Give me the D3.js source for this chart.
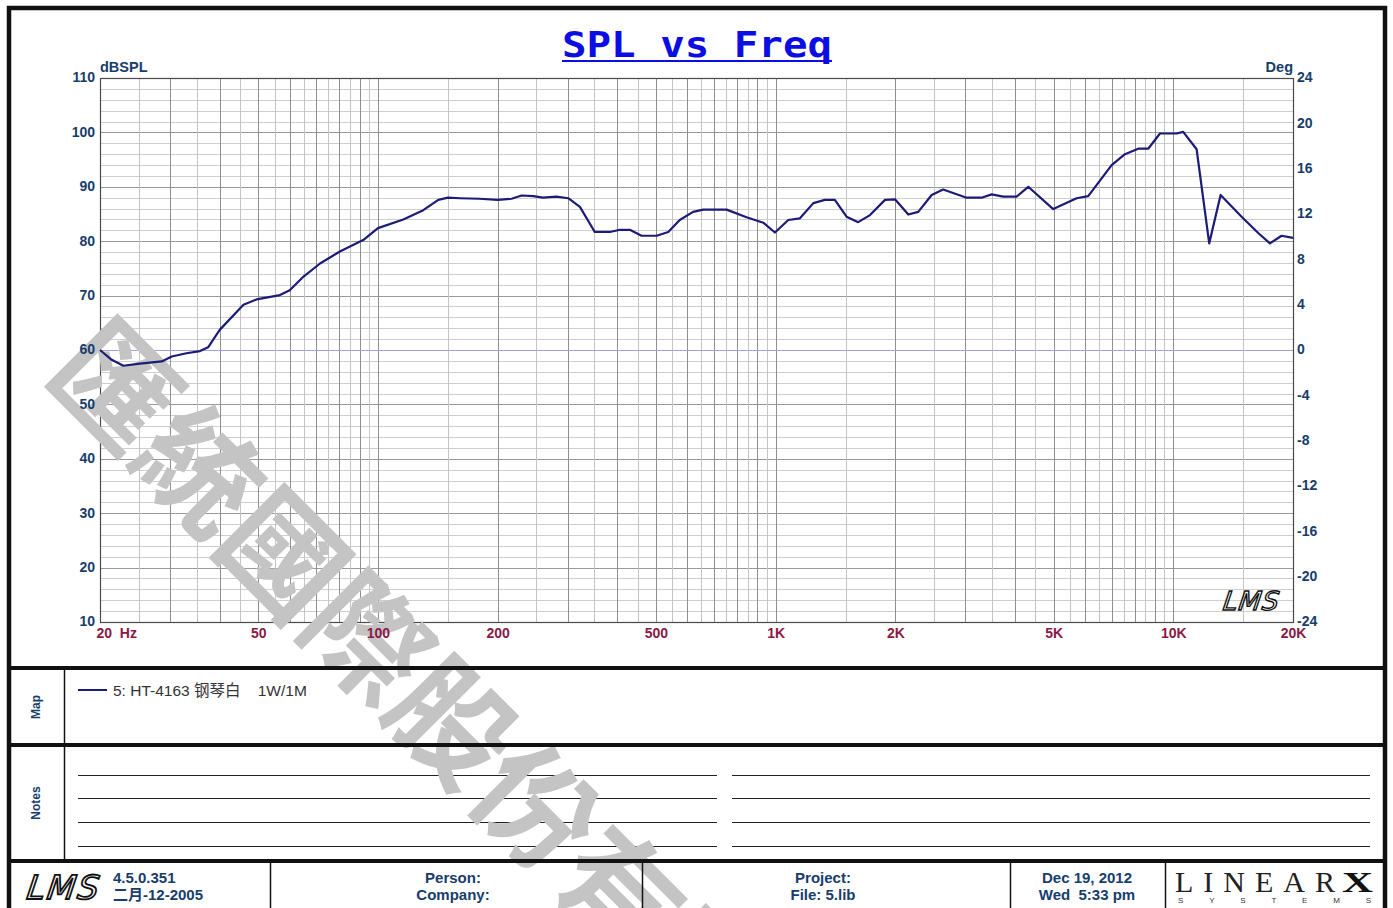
<!DOCTYPE html>
<html>
<head>
<meta charset="utf-8">
<script src="https://cdnjs.cloudflare.com/ajax/libs/d3/7.8.5/d3.min.js"></script>
<style>
  body { margin: 0; background: #fff; overflow: hidden; }
  svg { display: block; }
</style>
</head>
<body>
<div id="splchart"></div>
<script>
var freq = [20, 21.4, 22.9, 25.2, 28.6, 30.3, 33, 35.7, 37.4, 40,
            45.9, 49.5, 56.7, 60, 65, 71.5, 80.2, 91.8, 100, 115.8,
            130, 141.8, 150, 160.8, 180, 200, 216.8, 229.6, 245.8, 260,
            281, 301, 322, 351, 383, 406, 430, 460, 502, 537,
            574, 620, 658, 753, 845, 931, 996, 1076, 1151, 1244,
            1330, 1409, 1508, 1613, 1727, 1884, 1996, 2156, 2284, 2468,
            2638, 3022, 3296, 3494, 3736, 4036, 4318, 4990, 5714, 6110,
            6998, 7558, 8162, 8650, 9256, 10194, 10592, 11446, 12312, 13152,
            14852, 16350, 17500, 18720, 20000];
var spl = [60, 58.2, 57.1, 57.5, 57.9, 58.8, 59.4, 59.8, 60.5, 63.7,
           68.3, 69.3, 70.1, 71.0, 73.5, 75.9, 78.1, 80.2, 82.4, 84.0,
           85.7, 87.6, 88.0, 87.9, 87.8, 87.6, 87.8, 88.4, 88.3, 88.0,
           88.2, 87.9, 86.3, 81.7, 81.7, 82.1, 82.1, 81.0, 81.0, 81.7,
           83.9, 85.4, 85.8, 85.8, 84.4, 83.4, 81.6, 83.9, 84.2, 87.0,
           87.6, 87.6, 84.5, 83.5, 84.8, 87.6, 87.7, 84.9, 85.4, 88.5,
           89.5, 88.0, 88.0, 88.6, 88.2, 88.2, 90.0, 85.9, 87.9, 88.3,
           94.0, 96.0, 97.0, 97.0, 99.8, 99.8, 100.1, 96.9, 79.6, 88.5,
           84.5, 81.5, 79.6, 81.0, 80.6];

// axis ticks
var xTicks = [20, 50, 100, 200, 500, 1000, 2000, 5000, 10000, 20000];
var xTickLabels = ["20  Hz", "50", "100", "200", "500", "1K", "2K", "5K", "10K", "20K"];
var yTicks = [10, 20, 30, 40, 50, 60, 70, 80, 90, 100, 110];
var degTicks = [-24, -20, -16, -12, -8, -4, 0, 4, 8, 12, 16, 20, 24];

// texts
var titleText = "SPL vs Freq";
var legendText = "5: HT-4163 钢琴白    1W/1M";
var watermarkText = "匯統國際股份有限公司";
var footerCells = [
  {x: 113, anchor: "start", lines: ["4.5.0.351", "二月-12-2005"]},
  {x: 453, anchor: "middle", lines: ["Person:", "Company:"]},
  {x: 823, anchor: "middle", lines: ["Project:", "File: 5.lib"]},
  {x: 1087, anchor: "middle", lines: ["Dec 19, 2012", "Wed  5:33 pm"]}
];

var W = 1393, H = 908;
var plot = {left: 100, top: 78, right: 1293, bottom: 622};
var axisBlue = "#173d6b", axisRed = "#8b1846", curveBlue = "#1c1c78";
var numFont = "'Liberation Sans', Arial, sans-serif";

var svg = d3.select("#splchart")
  .append("svg")
    .attr("width", W)
    .attr("height", H);

// scales
var x = d3.scaleLog()
  .domain([20, 20000])
  .range([plot.left, plot.right]);
var y = d3.scaleLinear()
  .domain([10, 110])
  .range([plot.bottom, plot.top]);
var deg = d3.scaleLinear()
  .domain([-24, 24])
  .range([plot.bottom, plot.top]);

// grid lines, 2 dB steps and half/whole decade steps
var gridDb = d3.range(10, 111, 2);
var gridF = [];
[10, 100, 1000, 10000].forEach(function(base) {
  for (var m = 1; m <= 10; m += 0.5) {
    var f = base * m;
    if (f >= 20 && f <= 20000) gridF.push({f: f, major: m % 1 == 0});
  }
});

var grid = svg.append("g");
grid.selectAll("line.h")
  .data(gridDb)
  .enter()
  .append("line")
    .attr("x1", plot.left).attr("x2", plot.right)
    .attr("y1", function(d) { return Math.round(y(d)) + 0.5; })
    .attr("y2", function(d) { return Math.round(y(d)) + 0.5; })
    .attr("stroke", function(d) { return d % 10 == 0 ? "#9a9a9a" : "#cfcfcf"; })
    .attr("stroke-width", 1);
grid.selectAll("line.v")
  .data(gridF)
  .enter()
  .append("line")
    .attr("y1", plot.top).attr("y2", plot.bottom)
    .attr("x1", function(d) { return Math.round(x(d.f)) + 0.5; })
    .attr("x2", function(d) { return Math.round(x(d.f)) + 0.5; })
    .attr("stroke", function(d) { return d.major ? "#8f8f8f" : "#c4c4c4"; })
    .attr("stroke-width", 1);

// 0 deg reference line
svg.append("line")
  .attr("x1", plot.left).attr("x2", plot.right)
  .attr("y1", Math.round(deg(0)) + 0.5).attr("y2", Math.round(deg(0)) + 0.5)
  .attr("stroke", "#a3a3dc")
  .attr("stroke-width", 1.2);

// plot border
svg.append("rect")
  .attr("x", plot.left + 0.5).attr("y", plot.top + 0.5)
  .attr("width", plot.right - plot.left).attr("height", plot.bottom - plot.top)
  .attr("fill", "none")
  .attr("stroke", "#4a4a4a")
  .attr("stroke-width", 1.2);

// notes lines
var notesY = [775, 798, 822, 846];
var notes = svg.append("g");
[[78, 717], [732, 1370]].forEach(function(seg) {
  notes.selectAll(null)
    .data(notesY)
    .enter()
    .append("line")
      .attr("x1", seg[0]).attr("x2", seg[1])
      .attr("y1", function(d) { return d + 0.5; })
      .attr("y2", function(d) { return d + 0.5; })
      .attr("stroke", "#222")
      .attr("stroke-width", 1);
});

// watermark
svg.append("text")
  .attr("transform", "translate(79,339) rotate(45)")
  .attr("dominant-baseline", "central")
  .style("font-family", "'Noto Sans CJK TC', 'Noto Sans CJK SC', sans-serif")
  .style("font-weight", "700")
  .style("font-size", "119px")
  .style("fill", "#c4c4c4")
  .text(watermarkText);

// curve
var line = d3.line()
  .x(function(d, i) { return x(freq[i]); })
  .y(function(d) { return y(d); });
svg.append("path")
  .datum(spl)
  .attr("d", line)
  .attr("fill", "none")
  .attr("stroke", curveBlue)
  .attr("stroke-width", 2.2)
  .attr("stroke-linejoin", "round");

// left axis
var yAxis = svg.append("g")
  .attr("transform", "translate(" + plot.left + ",0)")
  .call(d3.axisLeft(y).tickValues(yTicks).tickSize(0).tickPadding(5));
// right axis, plain hyphen for negatives
var degAxis = svg.append("g")
  .attr("transform", "translate(" + plot.right + ",0)")
  .call(d3.axisRight(deg).tickValues(degTicks).tickSize(0).tickPadding(4)
    .tickFormat(function(d) { return String(d); }));
// bottom axis
var xAxis = svg.append("g")
  .attr("transform", "translate(0," + plot.bottom + ")")
  .call(d3.axisBottom(x).tickValues(xTicks).tickSize(0).tickPadding(6)
    .tickFormat(function(d, i) { return xTickLabels[i]; }));

[yAxis, degAxis, xAxis].forEach(function(a) {
  a.select(".domain").remove();
  a.selectAll("text")
    .style("font-family", numFont)
    .style("font-weight", "700")
    .style("font-size", "14px")
    .style("white-space", "pre")
    .attr("fill", axisBlue);
});
yAxis.selectAll("text").attr("dy", "0.28em");
degAxis.selectAll("text").attr("dy", "0.28em");
xAxis.selectAll("text").attr("fill", axisRed);
xAxis.selectAll("text").filter(function(d) { return d == 20; })
  .attr("text-anchor", "start")
  .attr("dx", -4);

// unit labels
svg.append("text")
  .attr("x", plot.left).attr("y", 72)
  .style("font-family", numFont).style("font-weight", "700").style("font-size", "14.5px")
  .attr("fill", axisBlue)
  .text("dBSPL");
svg.append("text")
  .attr("x", plot.right).attr("y", 72)
  .attr("text-anchor", "end")
  .style("font-family", numFont).style("font-weight", "700").style("font-size", "14.5px")
  .attr("fill", axisBlue)
  .text("Deg");

// title, monospace stretched to the reference width
var titleW = 270;
svg.append("text")
  .attr("x", 697 - titleW / 2).attr("y", 57)
  .attr("textLength", titleW)
  .attr("lengthAdjust", "spacingAndGlyphs")
  .style("font-family", "'DejaVu Sans Mono', monospace")
  .style("font-weight", "700")
  .style("font-size", "36px")
  .attr("fill", "#0c0ce4")
  .text(titleText);
svg.append("line")
  .attr("x1", 697 - titleW / 2).attr("x2", 697 + titleW / 2)
  .attr("y1", 61).attr("y2", 61)
  .attr("stroke", "#0c0ce4")
  .attr("stroke-width", 2);

// small LMS mark inside the plot
svg.append("text")
  .attr("x", 1222).attr("y", 610)
  .attr("transform", "skewX(-8)")
  .attr("dx", 86)
  .style("font-family", "'DejaVu Sans', sans-serif")
  .style("font-style", "italic")
  .style("font-size", "26px")
  .style("letter-spacing", "1px")
  .attr("fill", "none")
  .attr("stroke", "#111")
  .attr("stroke-width", 1.4)
  .text("LMS");

// legend (Map)
svg.append("line")
  .attr("x1", 78).attr("x2", 107)
  .attr("y1", 690).attr("y2", 690)
  .attr("stroke", curveBlue)
  .attr("stroke-width", 2);
svg.append("text")
  .attr("x", 113).attr("y", 690)
  .attr("dominant-baseline", "central")
  .style("font-family", "'Liberation Sans', 'Noto Sans CJK SC', sans-serif")
  .style("font-size", "15.5px")
  .style("white-space", "pre")
  .attr("fill", "#333")
  .text(legendText);

// side labels
[["Map", 707], ["Notes", 803]].forEach(function(s) {
  svg.append("text")
    .attr("transform", "translate(36," + s[1] + ") rotate(-90)")
    .attr("text-anchor", "middle")
    .attr("dominant-baseline", "central")
    .style("font-family", numFont)
    .style("font-weight", "700")
    .style("font-size", "12px")
    .attr("fill", axisBlue)
    .text(s[0]);
});

// footer cells
footerCells.forEach(function(c) {
  svg.append("g").selectAll("text")
    .data(c.lines)
    .enter()
    .append("text")
      .attr("x", c.x)
      .attr("y", function(d, i) { return 883 + i * 17; })
      .attr("text-anchor", c.anchor)
      .style("font-family", "'Liberation Sans', 'Noto Sans CJK SC', sans-serif")
      .style("font-weight", "700")
      .style("font-size", "15px")
      .style("white-space", "pre")
      .attr("fill", axisBlue)
      .text(function(d) { return d; });
});

// footer LMS logo
svg.append("text")
  .attr("x", 26).attr("y", 899)
  .attr("transform", "skewX(-8)")
  .attr("dx", 126)
  .style("font-family", "'DejaVu Sans', sans-serif")
  .style("font-style", "italic")
  .style("font-size", "33px")
  .style("letter-spacing", "2px")
  .attr("fill", "none")
  .attr("stroke", "#111")
  .attr("stroke-width", 1.8)
  .text("LMS");

// LINEARX logo
svg.append("text")
  .attr("x", 1175).attr("y", 892)
  .attr("textLength", 160)
  .attr("lengthAdjust", "spacing")
  .style("font-family", "'Liberation Serif', serif")
  .style("font-size", "30px")
  .attr("fill", "#222")
  .text("LINEAR");
svg.append("text")
  .attr("x", 1342).attr("y", 892)
  .attr("textLength", 31)
  .attr("lengthAdjust", "spacingAndGlyphs")
  .style("font-family", "'Liberation Serif', serif")
  .style("font-weight", "700")
  .style("font-size", "30px")
  .attr("fill", "#111")
  .text("X");
svg.append("text")
  .attr("x", 1178).attr("y", 903)
  .attr("textLength", 193)
  .attr("lengthAdjust", "spacing")
  .style("font-family", "'Liberation Sans', sans-serif")
  .style("font-size", "8px")
  .attr("fill", "#333")
  .text("SYSTEMS");

// frame: outer border, section separators, cell dividers
var frame = svg.append("g").attr("stroke", "#111").attr("fill", "none");
frame.append("rect")
  .attr("x", 9).attr("y", 8)
  .attr("width", 1376).attr("height", 1000)
  .attr("stroke-width", 4.5);
frame.selectAll("line.sep")
  .data([668, 745, 861])
  .enter()
  .append("line")
    .attr("x1", 9).attr("x2", 1385)
    .attr("y1", function(d) { return d; })
    .attr("y2", function(d) { return d; })
    .attr("stroke-width", 4);
frame.append("line")
  .attr("x1", 64.5).attr("x2", 64.5)
  .attr("y1", 668).attr("y2", 861)
  .attr("stroke-width", 1.5);
frame.selectAll("line.cell")
  .data([270, 642, 1010, 1165])
  .enter()
  .append("line")
    .attr("x1", function(d) { return d + 0.5; })
    .attr("x2", function(d) { return d + 0.5; })
    .attr("y1", 861).attr("y2", 910)
    .attr("stroke-width", 1.5);
</script>
</body>
</html>
